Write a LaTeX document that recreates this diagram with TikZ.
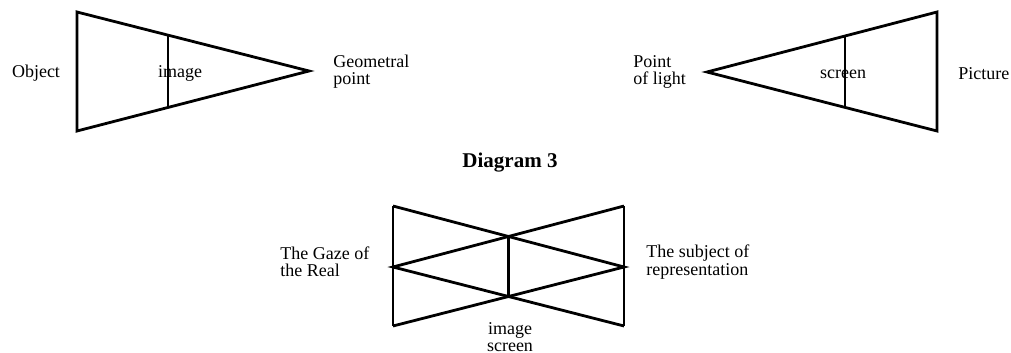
\documentclass[tikz,border=0pt]{standalone}
\usepackage{fontspec}
\setmainfont{Liberation Serif}
\usetikzlibrary{calc}
\begin{document}
\begin{tikzpicture}[
  x=0.5pt, y=-0.5pt,
  every node/.style={font=\fontsize{9}{8.6}\selectfont, inner sep=0pt},
  frame/.style={line width=1.4pt, line join=miter},
  side/.style={align=left, anchor=west},
  title/.style={font=\fontsize{10.5}{11}\selectfont\bfseries}
]
  \useasboundingbox (0,0) rectangle (1011,353);

  \coordinate (obj top) at (77,12);
  \coordinate (obj bot) at (77,131);
  \coordinate (geo) at (309,71);
  \draw[frame] (obj top) -- (geo) -- (obj bot) -- cycle;
  \draw[frame] ($(obj top)!0.392!(geo)$) -- ($(obj bot)!0.392!(geo)$);
  \node (object) at (36,73) {Object};
  \node (image) at (180,73) {image};
  \node[side] (geometral) at (333,72) {Geometral\\point};

  \coordinate (pic top) at (937,12);
  \coordinate (pic bot) at (937,131);
  \coordinate (light) at (707,72);
  \draw[frame] (pic top) -- (light) -- (pic bot) -- cycle;
  \draw[frame] ($(pic top)!0.4!(light)$) -- ($(pic bot)!0.4!(light)$);
  \node[side] (point) at (633,72) {Point\\of light};
  \node (screen) at (843,74) {screen};
  \node[side] (picture) at (958,74) {Picture};

  \node[title] (diagram) at (510,163) {Diagram 3};

  \coordinate (tl) at (393,206);
  \coordinate (ml) at (393,267);
  \coordinate (bl) at (393,326);
  \coordinate (tr) at (624,206);
  \coordinate (mr) at (624,267);
  \coordinate (br) at (624,326);
  \draw[frame] (tl) -- (bl);
  \draw[frame] (tr) -- (br);
  \draw[frame] (tl) -- (mr) -- (bl);
  \draw[frame] (tr) -- (ml) -- (br);
  \draw[frame] ($(tl)!0.5!(mr)$) -- ($(bl)!0.5!(mr)$);
  \node[side] (gaze) at (280,262) {The Gaze of\\the Real};
  \node[side] (subject) at (646,262) {The subject of\\representation};
  \node[align=center] (imgscreen) at (510,337) {image\\screen};
\end{tikzpicture}
\end{document}
